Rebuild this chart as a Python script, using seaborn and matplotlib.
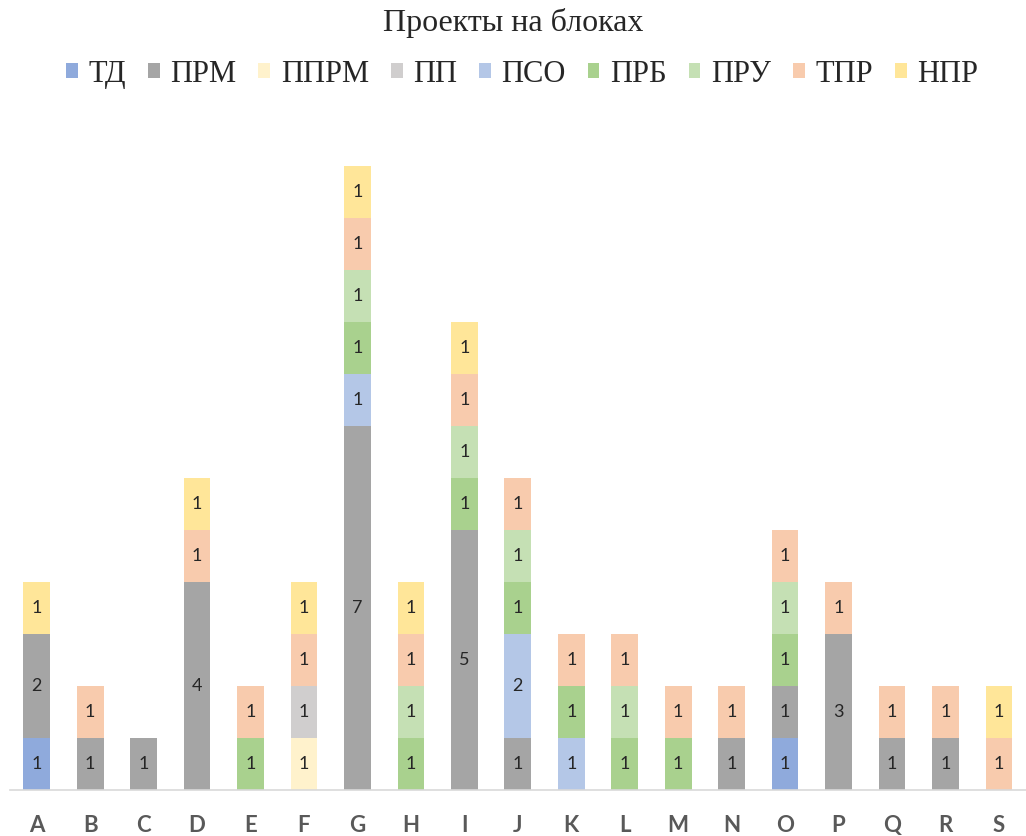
import numpy as np
import pandas as pd
import matplotlib
matplotlib.use("Agg")
import matplotlib.pyplot as plt
import seaborn as sns

categories = list("ABCDEFGHIJKLMNOPQRS")

series_names = ["ТД", "ПРМ", "ППРМ", "ПП", "ПСО", "ПРБ", "ПРУ", "ТПР", "НПР"]

td   = [1, 0, 0, 0, 0, 0, 0, 0, 0, 0, 0, 0, 0, 0, 1, 0, 0, 0, 0]
prm  = [2, 1, 1, 4, 0, 0, 7, 0, 5, 1, 0, 0, 0, 1, 1, 3, 1, 1, 0]
pprm = [0, 0, 0, 0, 0, 1, 0, 0, 0, 0, 0, 0, 0, 0, 0, 0, 0, 0, 0]
pp   = [0, 0, 0, 0, 0, 1, 0, 0, 0, 0, 0, 0, 0, 0, 0, 0, 0, 0, 0]
pso  = [0, 0, 0, 0, 0, 0, 1, 0, 0, 2, 1, 0, 0, 0, 0, 0, 0, 0, 0]
prb  = [0, 0, 0, 0, 1, 0, 1, 1, 1, 1, 1, 1, 1, 0, 1, 0, 0, 0, 0]
pru  = [0, 0, 0, 0, 0, 0, 1, 1, 1, 1, 0, 1, 0, 0, 1, 0, 0, 0, 0]
tpr  = [0, 1, 0, 1, 1, 1, 1, 1, 1, 1, 1, 1, 1, 1, 1, 1, 1, 1, 1]
npr  = [1, 0, 0, 1, 0, 1, 1, 1, 1, 0, 0, 0, 0, 0, 0, 0, 0, 0, 1]

series_values = [td, prm, pprm, pp, pso, prb, pru, tpr, npr]
series_colors = ["#8faadc", "#a5a5a5", "#fff2cc", "#d0cece", "#b4c7e7",
                 "#a9d18e", "#c5e0b4", "#f8cbad", "#ffe699"]

sns.set_theme(style="white")
plt.rcParams["font.family"] = ["Lato", "DejaVu Sans"]

fig = plt.figure(figsize=(10.26, 8.36), dpi=100)
ax = fig.add_axes([0.0097, 0.055, 0.99, 0.8086])

bottom = np.zeros(len(categories))
for name, vals, col in zip(series_names, series_values, series_colors):
    df = pd.DataFrame({"cat": categories, "val": vals})
    sns.barplot(data=df, x="cat", y="val", bottom=bottom, color=col,
                width=0.5, linewidth=0, saturation=1, ax=ax, label=name,
                errorbar=None)
    container = ax.containers[-1]
    labels = [str(v) if v > 0 else "" for v in vals]
    ax.bar_label(container, labels=labels, label_type="center",
                 fontsize=13, color="#262626")
    bottom = bottom + np.array(vals)

handles, labels = ax.get_legend_handles_labels()
if ax.get_legend() is not None:
    ax.get_legend().remove()

ax.set_xlim(-0.5, len(categories) - 0.5)
ax.set_ylim(0, 13)
ax.set_xlabel("")
ax.set_ylabel("")
ax.set_yticks([])
for side in ["left", "right", "top"]:
    ax.spines[side].set_visible(False)
ax.spines["bottom"].set_color("#d9d9d9")
ax.spines["bottom"].set_linewidth(1.2)
ax.tick_params(axis="x", length=0, pad=18, labelsize=16, labelcolor="#595959")
for t in ax.get_xticklabels():
    t.set_fontweight("bold")

serif = ["Liberation Serif", "DejaVu Serif"]
fig.text(0.5, 0.972, "Проекты на блоках", ha="center", va="center",
         fontsize=23, family=serif)

fig.legend(handles, labels, loc="center", bbox_to_anchor=(0.509, 0.911),
           ncol=len(series_names), frameon=False,
           prop={"family": serif, "size": 22},
           handlelength=0.38, handleheight=0.38, handletextpad=0.35,
           columnspacing=0.72)

fig.savefig("out.png", dpi=100)
